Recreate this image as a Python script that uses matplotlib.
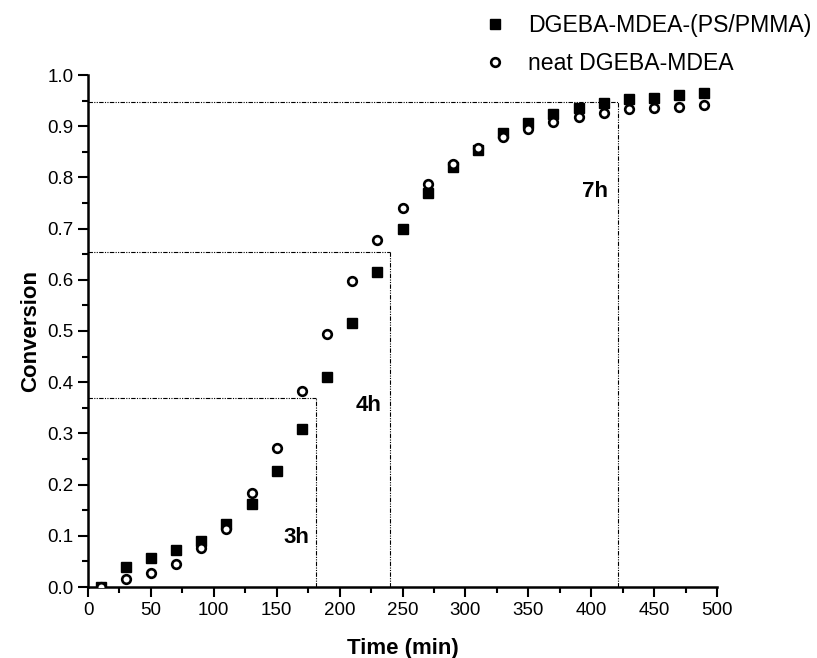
import numpy as np
import matplotlib.pyplot as plt
from matplotlib.ticker import MultipleLocator, FormatStrFormatter

plt.rcParams['font.family'] = ['Liberation Sans', 'DejaVu Sans']

# cure time (min)
time = [10, 30, 50, 70, 90, 110, 130, 150, 170, 190, 210, 230, 250,
        270, 290, 310, 330, 350, 370, 390, 410, 430, 450, 470, 490]

# DGEBA-MDEA-(PS/PMMA)
conv_blend = [0.0, 0.040, 0.056, 0.072, 0.090, 0.123, 0.163, 0.227, 0.308,
              0.411, 0.515, 0.616, 0.699, 0.770, 0.820, 0.854, 0.886, 0.907,
              0.924, 0.935, 0.945, 0.954, 0.956, 0.961, 0.964]

# neat DGEBA-MDEA
conv_neat = [0.0, 0.016, 0.027, 0.045, 0.076, 0.114, 0.184, 0.271, 0.383,
             0.494, 0.598, 0.677, 0.741, 0.788, 0.827, 0.857, 0.878, 0.894,
             0.908, 0.917, 0.926, 0.933, 0.935, 0.938, 0.941]

# guide lines: (time, conversion, label)
guide_t = [181, 240, 421]
guide_c = [0.369, 0.654, 0.948]
guide_lab = ['3h', '4h', '7h']
lab_pos = [(176, 0.096), (233, 0.354), (413, 0.772)]

fig = plt.figure(figsize=(8.17, 6.58), dpi=100)
ax = fig.add_axes([88/817, 1-587/658, (717-88)/817, (587-75)/658])

dash = (0, (4, 1.2, 1, 1.2, 1, 1.2))
for t, c in zip(guide_t, guide_c):
    ax.plot([0, t], [c, c], color='black', lw=0.8, linestyle=dash)
    ax.plot([t, t], [0, c], color='black', lw=0.8, linestyle=dash)
for lab, (x, y) in zip(guide_lab, lab_pos):
    ax.text(x, y, lab, fontsize=16, fontweight='bold', ha='right', va='center')

ax.plot(time, conv_blend, linestyle='none', marker='s', markersize=7.3,
        color='black', label='DGEBA-MDEA-(PS/PMMA)', zorder=3)
ax.plot(time, conv_neat, linestyle='none', marker='o', markersize=6.2,
        markerfacecolor='white', markeredgecolor='black', markeredgewidth=1.9,
        label='neat DGEBA-MDEA', zorder=4)

ax.set_xlim(0, 500)
ax.set_ylim(0, 1.0)
ax.xaxis.set_major_locator(MultipleLocator(50))
ax.xaxis.set_minor_locator(MultipleLocator(25))
ax.yaxis.set_major_locator(MultipleLocator(0.1))
ax.yaxis.set_minor_locator(MultipleLocator(0.05))
ax.yaxis.set_major_formatter(FormatStrFormatter('%.1f'))

for s in ['top', 'right']:
    ax.spines[s].set_visible(False)
for s in ['left', 'bottom']:
    ax.spines[s].set_linewidth(1.8)
ax.tick_params(which='major', direction='out', length=7.5, width=1.5,
               labelsize=13.5, pad=3)
ax.tick_params(which='minor', direction='out', length=4, width=1.5)

ax.set_xlabel('Time (min)', fontsize=16, fontweight='bold', labelpad=14)
ax.set_ylabel('Conversion', fontsize=16, fontweight='bold', labelpad=4)

fig.legend(loc='upper left', bbox_to_anchor=(483/817, 0.979), frameon=False,
           fontsize=16.6, handlelength=1, handletextpad=0.95, labelspacing=0.68,
           borderpad=0, borderaxespad=0, numpoints=1)

plt.savefig('out.png', dpi=100)
